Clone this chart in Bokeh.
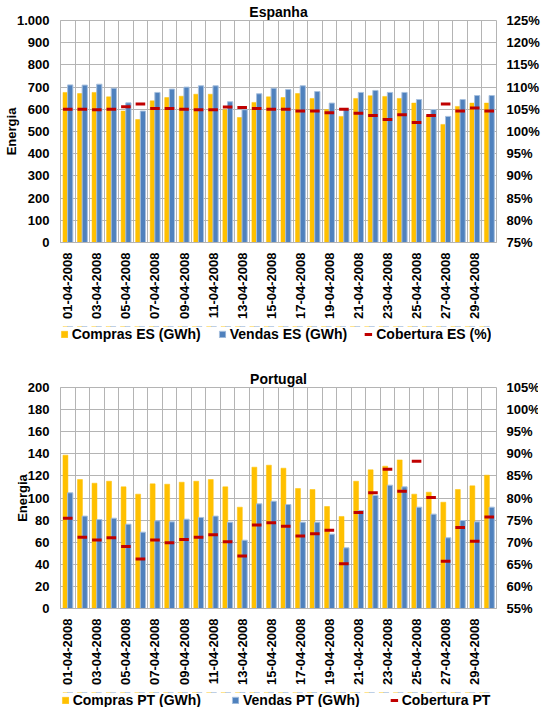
import math
from bokeh.plotting import figure
from bokeh.models import (ColumnDataSource, Range1d, LinearAxis, FixedTicker,
                          Legend, LegendItem, PrintfTickFormatter)
from bokeh.transform import dodge
from bokeh.layouts import column
from bokeh.embed import file_html
from bokeh.resources import INLINE

days = list(range(1, 31))
dates = ["01-04-2008", "02-04-2008", "03-04-2008", "04-04-2008", "05-04-2008",
         "06-04-2008", "07-04-2008", "08-04-2008", "09-04-2008", "10-04-2008",
         "11-04-2008", "12-04-2008", "13-04-2008", "14-04-2008", "15-04-2008",
         "16-04-2008", "17-04-2008", "18-04-2008", "19-04-2008", "20-04-2008",
         "21-04-2008", "22-04-2008", "23-04-2008", "24-04-2008", "25-04-2008",
         "26-04-2008", "27-04-2008", "28-04-2008", "29-04-2008", "30-04-2008"]

# Espanha
compras_es = [676, 671, 676, 656, 592, 554, 638, 653, 659, 668, 668, 598, 563, 631, 656,
              653, 671, 649, 599, 568, 649, 661, 658, 649, 628, 571, 532, 613, 628, 628]
vendas_es = [710, 709, 713, 695, 629, 592, 676, 691, 700, 706, 706, 634, 598, 670, 695,
             689, 706, 680, 628, 601, 676, 685, 676, 676, 644, 599, 568, 644, 662, 662]
cobertura_es = [105.0, 105.0, 104.9, 105.0, 105.6, 106.2, 105.2, 105.2, 105.0, 104.9,
                104.9, 105.5, 105.4, 105.2, 105.0, 105.0, 104.6, 104.6, 104.2, 105.0,
                104.1, 103.6, 102.7, 103.8, 102.0, 103.6, 106.2, 104.6, 105.3, 104.6]

# Portugal
compras_pt = [138.8, 116.7, 113.4, 115.2, 110.1, 103.5, 112.8, 112.5, 114.3, 115.2,
              116.7, 110.1, 91.7, 127.9, 129.7, 127.0, 108.6, 107.7, 92.3, 83.3,
              115.2, 125.5, 128.8, 134.5, 103.5, 105.3, 96.2, 107.7, 111.0, 120.7]
vendas_pt = [104.7, 83.6, 80.5, 81.7, 76.3, 69.1, 79.3, 78.4, 80.8, 82.4,
             83.6, 78.1, 61.8, 94.7, 97.1, 94.1, 78.1, 78.1, 67.3, 54.9,
             88.7, 102.3, 111.6, 110.1, 91.7, 85.4, 64.0, 79.6, 78.4, 91.7]
cobertura_pt = [75.4, 71.1, 70.5, 71.0, 69.0, 66.2, 70.5, 69.9, 70.6, 71.1,
                71.7, 70.1, 66.9, 73.9, 74.4, 73.6, 71.4, 71.9, 72.7, 65.1,
                76.7, 81.2, 86.5, 81.5, 88.3, 80.1, 65.7, 73.3, 70.2, 75.7]

es_left_ticks = [0, 100, 200, 300, 400, 500, 600, 700, 800, 900, 1000]
es_right_ticks = [75, 80, 85, 90, 95, 100, 105, 110, 115, 120, 125]
pt_left_ticks = [0, 20, 40, 60, 80, 100, 120, 140, 160, 180, 200]
pt_right_ticks = [55, 60, 65, 70, 75, 80, 85, 90, 95, 100, 105]

es_legend = ["Compras ES (GWh)", "Vendas ES (GWh)", "Cobertura ES (%)"]
pt_legend = ["Compras PT (GWh)", "Vendas PT (GWh)", "Cobertura PT"]

FONT = "Liberation Sans"
YELLOW = "#FFC000"
BLUE = "#4F81BD"
BLUE_EDGE = "#A7C0DE"
RED = "#C00000"
GRID = "#B4B4B4"
W = 538
FW = 436


def style_axis(ax):
    ax.major_tick_out = 0
    ax.major_tick_in = 0
    ax.minor_tick_out = 0
    ax.minor_tick_in = 0
    ax.major_label_text_font = FONT
    ax.major_label_text_font_style = "bold"
    ax.major_label_text_font_size = "13px"
    ax.major_label_text_color = "#000000"


def add_series(p, src, pct_range=None):
    extra = {} if pct_range is None else {"y_range_name": pct_range}
    r1 = p.vbar(x=dodge("day", -0.16), top="compras", width=0.34, source=src,
                fill_color=YELLOW, line_color=YELLOW, line_width=0.5)
    r2 = p.vbar(x=dodge("day", 0.17), top="vendas", width=0.36, source=src,
                fill_color=BLUE, line_color=BLUE_EDGE, line_width=1)
    r3 = p.segment(x0=dodge("day", -0.33), x1=dodge("day", 0.33), y0="cob", y1="cob",
                   source=src, line_color=RED, line_width=3, **extra)
    return r1, r2, r3


def make_chart(title, src, left_ticks, right_ticks, labels, frame_h, top, bottom):
    p = figure(frame_width=FW, frame_height=frame_h,
               x_range=Range1d(0.5, 30.5),
               y_range=Range1d(left_ticks[0], left_ticks[-1]),
               output_backend="svg", toolbar_location=None,
               min_border_left=55, min_border_right=47,
               min_border_top=top, min_border_bottom=bottom)
    p.extra_y_ranges = {"pct": Range1d(right_ticks[0], right_ticks[-1])}

    p.title.text = title
    p.title.align = "center"
    p.title.text_font = FONT
    p.title.text_font_size = "14px"
    p.title.text_font_style = "bold"
    p.title.text_color = "#000000"
    p.title.standoff = 2

    p.outline_line_color = GRID
    p.background_fill_color = "white"
    p.border_fill_color = "white"

    p.xgrid.ticker = FixedTicker(ticks=[d - 0.5 for d in days] + [days[-1] + 0.5])
    p.xgrid.grid_line_color = GRID
    p.ygrid.grid_line_color = GRID
    p.ygrid.ticker = FixedTicker(ticks=left_ticks)

    xa = p.xaxis[0]
    style_axis(xa)
    xa.ticker = FixedTicker(ticks=days[::2])
    xa.major_label_overrides = {d: labels[i] for i, d in enumerate(days)}
    xa.major_label_orientation = math.pi / 2
    xa.major_label_standoff = 10
    xa.axis_line_color = GRID

    ya = p.yaxis[0]
    style_axis(ya)
    ya.ticker = FixedTicker(ticks=left_ticks)
    ya.major_label_overrides = {t: f"{t:,}".replace(",", ".") for t in left_ticks}
    ya.axis_label = "Energia"
    ya.axis_label_text_font = FONT
    ya.axis_label_text_font_style = "bold"
    ya.axis_label_text_font_size = "13px"
    ya.axis_label_text_color = "#000000"
    ya.axis_label_standoff = -5
    ya.major_label_standoff = 11
    ya.axis_line_color = GRID

    ra = LinearAxis(y_range_name="pct", ticker=FixedTicker(ticks=right_ticks),
                    formatter=PrintfTickFormatter(format="%d%%"))
    style_axis(ra)
    ra.major_label_standoff = 10
    ra.axis_line_color = None
    p.add_layout(ra, "right")

    add_series(p, src, "pct")
    return p


def make_legend(src, names, height, spacing):
    # legend strip: the series are drawn outside its (empty) range, only the legend shows
    p = figure(width=W, height=height, x_range=Range1d(0.5, 30.5),
               y_range=Range1d(-2, -1),
               output_backend="svg", toolbar_location=None, min_border=0,
               x_axis_location=None, y_axis_location=None)
    p.grid.visible = False
    p.outline_line_color = None
    rs = add_series(p, src)
    leg = Legend(items=[LegendItem(label=n, renderers=[r]) for n, r in zip(names, rs)],
                 orientation="horizontal", location="center",
                 label_text_font=FONT, label_text_font_style="bold",
                 label_text_font_size="14px", label_text_color="#000000",
                 glyph_width=8, glyph_height=8, label_standoff=4,
                 spacing=spacing, padding=0, margin=0, label_height=14,
                 border_line_alpha=0, background_fill_alpha=0)
    p.add_layout(leg)
    return p


src_es = ColumnDataSource(dict(day=days, compras=compras_es, vendas=vendas_es,
                               cob=cobertura_es))
src_pt = ColumnDataSource(dict(day=days, compras=compras_pt, vendas=vendas_pt,
                               cob=cobertura_pt))

p1 = make_chart("Espanha", src_es, es_left_ticks, es_right_ticks, dates, 222, 15, 84)
l1 = make_legend(src_es, es_legend, 16, 17)
p2 = make_chart("Portugal", src_pt, pt_left_ticks, pt_right_ticks, dates, 221, 45, 84)
l2 = make_legend(src_pt, pt_legend, 15, 30)

layout = column(p1, l1, p2, l2, spacing=0)
open("out.html", "w").write(file_html(layout, INLINE))
